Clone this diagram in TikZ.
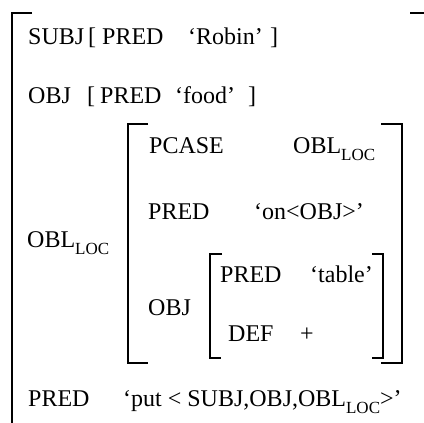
\documentclass[tikz,border=0pt]{standalone}
\usepackage{fontspec}
\setmainfont{Liberation Serif}
\newcommand\locsub{\raisebox{-7pt}{\fontsize{17}{17}\selectfont LOC}}

\begin{document}
\begin{tikzpicture}[x=1pt,y=-1pt,
  fs/.style={anchor=base west,inner sep=0pt,font=\fontsize{24}{24}\selectfont},
  brk/.style={line width=1.2pt}]
\useasboundingbox (0,0) rectangle (424,423);

% outer f-structure
\draw [brk] (32,13)--(12,13)--(12,423);
\draw [brk] (410,13)--(424,13);

% SUBJ line
\node [fs] (subj) at (28,45) {SUBJ};
\node [fs] (subjl) at (88,45) {[};
\node [fs] (subjpred) at (102,45) {PRED};
\node [fs] (robin) at (188,45) {‘Robin’};
\node [fs] (subjr) at (270,45) {]};

% OBJ line
\node [fs] (obj) at (28,103) {OBJ};
\node [fs] (objl) at (87,103) {[};
\node [fs] (objpred) at (100,103) {PRED};
\node [fs] (food) at (175,103) {‘food’};
\node [fs] (objr) at (248,103) {]};

% OBL_LOC
\node [fs] (obl) at (27,247) {OBL\locsub};

  % bracket of OBL_LOC
\draw [brk] (148,124)--(128,124)--(128,363)--(148,363);
\draw [brk] (381,124)--(402,124)--(402,363)--(381,363);

\node [fs] (pcase) at (149,153) {PCASE};
\node [fs] (pcaseval) at (293,153) {OBL\locsub};
\node [fs] (oblpred) at (148,219) {PRED};
\node [fs] (on) at (254,219) {‘on<OBJ>’};
\node [fs] (inobj) at (148,315) {OBJ};

  % bracket of inner OBJ
\draw [brk] (222,254)--(210,254)--(210,358)--(221,358);
\draw [brk] (372,254)--(383,254)--(383,358)--(372,358);

\node [fs] (tabpred) at (220,282) {PRED};
\node [fs] (table) at (310,282) {‘table’};
\node [fs] (def) at (228,341) {DEF};
\node [fs] (plus) at (300,341) {+};

% main PRED
\node [fs] (pred) at (28,406) {PRED};
\node [fs] (put) at (123,406) {‘put < SUBJ,OBJ,OBL\locsub>’};

\end{tikzpicture}
\end{document}
